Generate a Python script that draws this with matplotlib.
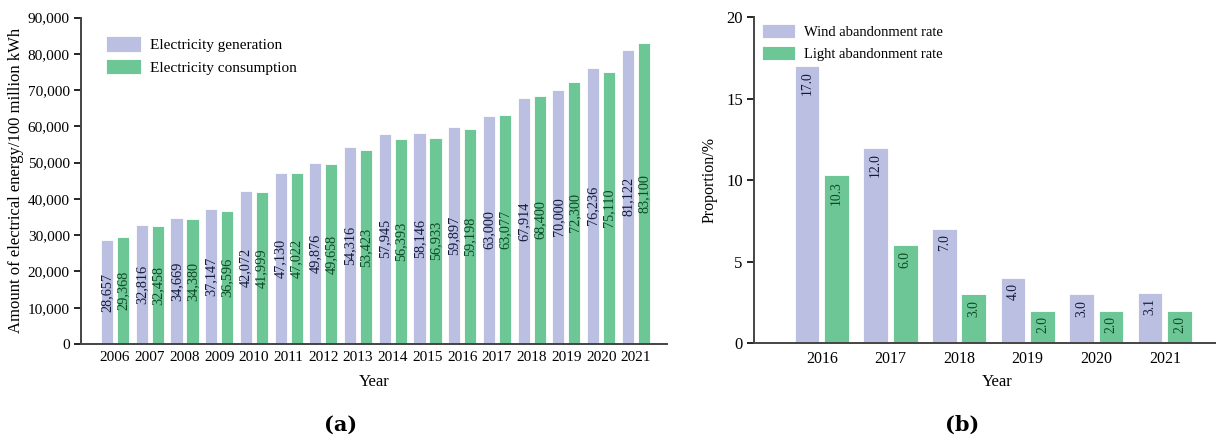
import matplotlib
matplotlib.use("Agg")
import matplotlib.pyplot as plt
import numpy as np

plt.rcParams["font.family"] = ["Liberation Serif", "DejaVu Serif"]

# Panel (a): annual electricity generation and consumption
years_a = ["2006", "2007", "2008", "2009", "2010", "2011", "2012", "2013",
           "2014", "2015", "2016", "2017", "2018", "2019", "2020", "2021"]
generation = [28657, 32816, 34669, 37147, 42072, 47130, 49876, 54316,
              57945, 58146, 59897, 63000, 67914, 70000, 76236, 81122]
consumption = [29368, 32458, 34380, 36596, 41999, 47022, 49658, 53423,
               56393, 56933, 59198, 63077, 68400, 72300, 75110, 83100]

# Panel (b): wind and light abandonment rates
years_b = ["2016", "2017", "2018", "2019", "2020", "2021"]
wind_rate = [17.0, 12.0, 7.0, 4.0, 3.0, 3.1]
light_rate = [10.3, 6.0, 3.0, 2.0, 2.0, 2.0]

LAV = "#bbc0e2"
GRN = "#6cc695"
LAV_TXT = "#141a3c"
GRN_TXT = "#0c4a24"

fig = plt.figure(figsize=(12.16, 4.41), dpi=100)

# ---------------- (a) ----------------
ax1 = fig.add_axes([0.0666, 0.22, 0.482, 0.740])
x = np.arange(len(years_a))
w = 0.35
off = 0.23
ax1.bar(x - off, generation, w, color=LAV, edgecolor="white", linewidth=0.6,
        label="Electricity generation")
ax1.bar(x + off, consumption, w, color=GRN, edgecolor="white", linewidth=0.6,
        label="Electricity consumption")
for xi, v in zip(x, generation):
    ax1.text(xi - off, v / 2, f"{v:,}", rotation=90, ha="center", va="center",
             fontsize=10.3, color=LAV_TXT)
for xi, v in zip(x, consumption):
    ax1.text(xi + off, v / 2, f"{v:,}", rotation=90, ha="center", va="center",
             fontsize=10.3, color=GRN_TXT)
ax1.set_xlim(-0.98, 15.9)
ax1.set_ylim(0, 90000)
ax1.set_yticks(np.arange(0, 90001, 10000))
ax1.set_yticklabels([f"{t:,}" for t in range(0, 90001, 10000)])
ax1.set_xticks(x)
ax1.set_xticklabels(years_a)
ax1.tick_params(axis="y", direction="out", length=5, width=1.2, labelsize=11, pad=3)
ax1.tick_params(axis="x", length=0, labelsize=11, pad=5)
ax1.spines[["top", "right"]].set_visible(False)
for s in ("left", "bottom"):
    ax1.spines[s].set_linewidth(1.4)
    ax1.spines[s].set_color("#444444")
ax1.set_ylabel("Amount of electrical energy/100 million kWh", fontsize=12, labelpad=3)
ax1.set_xlabel("Year", fontsize=12, labelpad=7)
ax1.legend(loc="upper left", bbox_to_anchor=(0.025, 0.975), frameon=False,
           fontsize=11, handlelength=2.3, handleheight=1.15, handletextpad=0.55,
           labelspacing=0.45, borderaxespad=0.3)
fig.text(0.28, 0.037, "(a)", ha="center", va="center", fontsize=15,
         fontweight="bold", family=["DejaVu Serif"])

# ---------------- (b) ----------------
ax2 = fig.add_axes([0.620, 0.222, 0.40, 0.739])
xb = np.arange(len(years_b))
wb = 0.36
offb = 0.215
ax2.bar(xb - offb, wind_rate, wb, color=LAV, edgecolor="white", linewidth=0.6,
        label="Wind abandonment rate")
ax2.bar(xb + offb, light_rate, wb, color=GRN, edgecolor="white", linewidth=0.6,
        label="Light abandonment rate")
for xi, v in zip(xb, wind_rate):
    ax2.annotate(f"{v:.1f}", (xi - offb, v), xytext=(0, -4), textcoords="offset points",
                 rotation=90, ha="center", va="top", fontsize=9.8, color=LAV_TXT)
for xi, v in zip(xb, light_rate):
    ax2.annotate(f"{v:.1f}", (xi + offb, v), xytext=(0, -4), textcoords="offset points",
                 rotation=90, ha="center", va="top", fontsize=9.8, color=GRN_TXT)
ax2.set_xlim(-0.99, 6.1)
ax2.set_ylim(0, 20)
ax2.set_yticks([0, 5, 10, 15, 20])
ax2.set_xticks(xb)
ax2.set_xticklabels(years_b)
ax2.tick_params(axis="y", direction="out", length=5, width=1.2, labelsize=12, pad=3)
ax2.tick_params(axis="x", length=0, labelsize=11.5, pad=6)
ax2.spines[["top", "right"]].set_visible(False)
for s in ("left", "bottom"):
    ax2.spines[s].set_linewidth(1.4)
    ax2.spines[s].set_color("#444444")
ax2.set_ylabel("Proportion/%", fontsize=11.5, labelpad=6)
ax2.set_xlabel("Year", fontsize=12, labelpad=5)
ax2.legend(loc="upper left", bbox_to_anchor=(-0.005, 1.01), frameon=False,
           fontsize=10.5, handlelength=2.3, handleheight=1.1, handletextpad=0.6,
           labelspacing=0.5, borderaxespad=0.3)
fig.text(0.791, 0.037, "(b)", ha="center", va="center", fontsize=15,
         fontweight="bold", family=["DejaVu Serif"])

fig.savefig("out.png", dpi=100)
